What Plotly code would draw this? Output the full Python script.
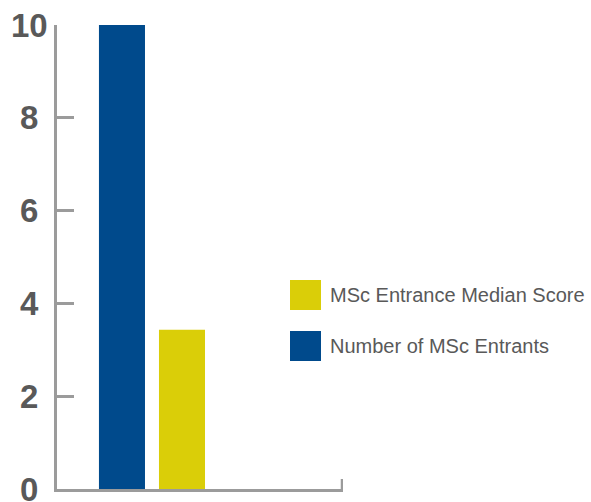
import plotly.graph_objects as go

# Series (one category, two grouped bars)
series_names = ["Number of MSc Entrants", "MSc Entrance Median Score"]
series_values = [10, 3.43]
series_colors = ["#004A8C", "#DACE08"]

# Y axis ticks
y_ticks = [0, 2, 4, 6, 8, 10]
y_tick_labels = ["0", "2", "4", "6", "8", "10"]

W, H = 591, 502
M_L, M_R, M_T, M_B = 57, 248, 25, 13
PLOT_W = W - M_L - M_R
PLOT_H = H - M_T - M_B

X_RANGE = [-0.633, 1.273]
AXIS_GRAY = "#9B9B9B"
LABEL_GRAY = "#595959"
FONT = "Liberation Sans, Arial, sans-serif"


def px_x(px):
    return (px - M_L) / PLOT_W


def px_y(py):
    return (H - M_B - py) / PLOT_H


fig = go.Figure()
for name, val, col in zip(series_names, series_values, series_colors):
    fig.add_trace(go.Bar(
        x=[0], y=[val], name=name, marker=dict(color=col, line=dict(width=0)),
        showlegend=False, hoverinfo="skip",
    ))

# Legend drawn as large swatches, listed in reverse order (top item = last series)
shapes = []
annotations = []
top = 280
for i, idx in enumerate(reversed(range(len(series_names)))):
    y0 = top + i * 51
    shapes.append(dict(
        type="rect", xref="paper", yref="paper",
        x0=px_x(290), x1=px_x(321), y0=px_y(y0 + 30), y1=px_y(y0),
        fillcolor=series_colors[idx], line=dict(width=0),
    ))
    annotations.append(dict(
        xref="paper", yref="paper", x=px_x(328), y=px_y(y0 + 15),
        xanchor="left", yanchor="middle", showarrow=False,
        text=series_names[idx],
        font=dict(family=FONT, size=20, color=LABEL_GRAY),
    ))

# Y tick labels, centred in the left gutter on each tick value
for val, lab in zip(y_ticks, y_tick_labels):
    annotations.append(dict(
        xref="paper", yref="y", x=px_x(29), y=val,
        xanchor="center", yanchor="middle", showarrow=False,
        text=lab, font=dict(family=FONT, size=33, color=LABEL_GRAY, weight="bold"),
    ))

# Small upturned tick closing the right end of the x axis line
shapes.append(dict(
    type="line", xref="x", yref="paper",
    x0=X_RANGE[1] - 0.005, x1=X_RANGE[1] - 0.005, y0=0, y1=px_y(H - M_B - 10),
    line=dict(color=AXIS_GRAY, width=3),
))

fig.update_layout(
    width=W, height=H,
    margin=dict(l=M_L, r=M_R, t=M_T, b=M_B, pad=0),
    paper_bgcolor="white", plot_bgcolor="white",
    barmode="group", bargap=0.2, bargroupgap=0.233,
    shapes=shapes, annotations=annotations,
    showlegend=False,
    xaxis=dict(
        range=X_RANGE, showgrid=False, zeroline=False, automargin=False,
        showline=True, linecolor=AXIS_GRAY, linewidth=3,
        showticklabels=False, ticks="", fixedrange=True,
    ),
    yaxis=dict(
        range=[0, 10], showgrid=False, zeroline=False, automargin=False,
        showline=True, linecolor=AXIS_GRAY, linewidth=3,
        tickvals=y_ticks, showticklabels=False,
        ticks="inside", ticklen=17, tickwidth=3, tickcolor=AXIS_GRAY,
        fixedrange=True,
    ),
)

fig.write_html("out.html", config={"displayModeBar": False})
